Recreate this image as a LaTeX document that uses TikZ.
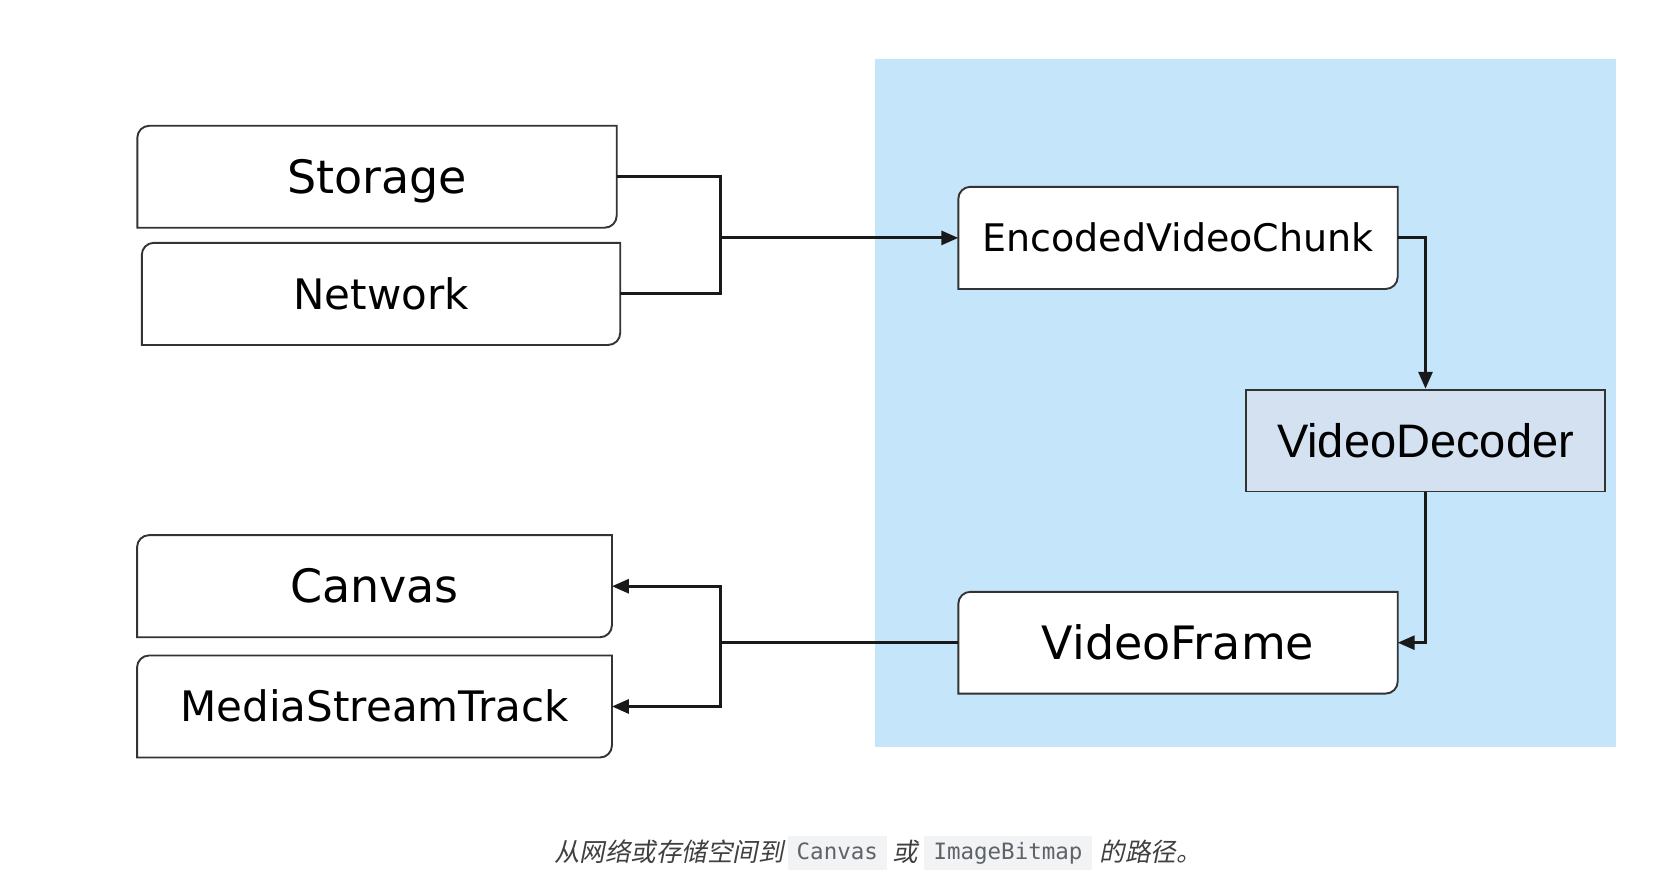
\documentclass[tikz,border=0pt]{standalone}
\usepackage{fontspec}
\usetikzlibrary{arrows.meta}
\newfontfamily\dvsans{DejaVu Sans}
\newfontfamily\lsans{Liberation Sans}
\newfontfamily\dvmono{DejaVu Sans Mono}
\newfontfamily\cjkit[FakeSlant=0.2]{Noto Sans CJK SC}
\definecolor{areablue}{HTML}{C5E5FA}
\definecolor{decfill}{HTML}{D4E1F0}
\definecolor{boxstroke}{HTML}{333333}
\definecolor{captxt}{HTML}{404040}
\definecolor{codetxt}{HTML}{5F6368}
\definecolor{codebg}{HTML}{F1F3F4}
\pgfdeclarelayer{bg}
\pgfsetlayers{bg,main}
\tikzset{
  boxtext/.style={inner sep=0pt, text=black},
  big/.style={font=\dvsans\fontsize{46}{50}\selectfont, text height=43.5pt, text depth=10pt},
  mid/.style={font=\dvsans\fontsize{42}{46}\selectfont, text height=40.6pt, text depth=10pt},
  small/.style={font=\dvsans\fontsize{38}{42}\selectfont, text height=36.7pt, text depth=9pt},
  boxline/.style={draw=boxstroke, line width=1.9pt, fill=white},
  conn/.style={draw=black!90, line width=3pt},
  arr/.style={conn, -{Triangle[length=17pt,width=14pt]}},
  captext/.style={inner sep=0pt, text=captxt, font=\cjkit\fontsize{25.5}{29}\selectfont},
  codebox/.style={inner sep=0pt, fill=codebg, text=codetxt, minimum height=34pt, font=\dvmono\fontsize{22.5}{26}\selectfont, text height=17pt, text depth=5pt},
}
\newcommand\tlbrshape[1]{\path[boxline] (#1.south west) [rounded corners=12pt] -- (#1.north west) [sharp corners] -- (#1.north east) [rounded corners=12pt] -- (#1.south east) [sharp corners] -- cycle;}
\begin{document}
\begin{tikzpicture}[x=1pt,y=-1pt]
\useasboundingbox (0,0) rectangle (1672,896);
% nodes
\node[boxtext, big, minimum width=479pt, minimum height=101.5pt] (st) at (377,176.75) {Storage};
\node[boxtext, mid, minimum width=478pt, minimum height=101.7pt] (nw) at (381,293.9) {Network};
\node[boxtext, small, minimum width=439pt, minimum height=101.7pt] (eck) at (1178,237.9) {EncodedVideoChunk};
\node[boxtext, font=\lsans\fontsize{47}{51}\selectfont, text height=43.7pt, text depth=10pt, minimum width=359pt, minimum height=101.8pt, fill=decfill, draw=boxstroke, line width=1.9pt] (vd) at (1425.5,440.6) {VideoDecoder};
\node[boxtext, big, minimum width=439pt, minimum height=101.3pt] (vf) at (1178,642.7) {VideoFrame};
\node[boxtext, big, minimum width=474.5pt, minimum height=101.7pt] (cv) at (374.5,586.2) {Canvas};
\node[boxtext, mid, minimum width=474.5pt, minimum height=101.6pt] (mst) at (374.5,706.5) {MediaStreamTrack};
\coordinate (jx) at (720,0);
% background layer
\begin{pgfonlayer}{bg}
\fill[areablue] (874.5,58.6) rectangle (1615.5,746.6);
\tlbrshape{st}
\tlbrshape{nw}
\tlbrshape{eck}
\tlbrshape{vf}
\tlbrshape{cv}
\tlbrshape{mst}
\end{pgfonlayer}
% connectors
\draw[conn] (st.east) -| (jx |- nw.east) -- (nw.east);
\draw[arr] (jx |- eck.west) -- (eck.west);
\draw[arr] (eck.east) -| (vd.north);
\draw[arr] (vd.south) |- (vf.east);
\draw[conn] (vf.west) -- (jx |- vf.west);
\draw[arr] (jx |- vf.west) |- (cv.east);
\draw[arr] (jx |- vf.west) |- (mst.east);
% caption
\node[captext, anchor=east] (c1) at (784,852) {从网络或存储空间到};
\node[codebox, minimum width=98.6pt] (k1) at (837.3,853) {Canvas};
\node[captext] (c2) at (905,852) {或};
\node[codebox, minimum width=168pt] (k2) at (1008,853) {ImageBitmap};
\node[captext, anchor=west] (c3) at (1099.5,852) {的路径。};
\end{tikzpicture}
\end{document}
